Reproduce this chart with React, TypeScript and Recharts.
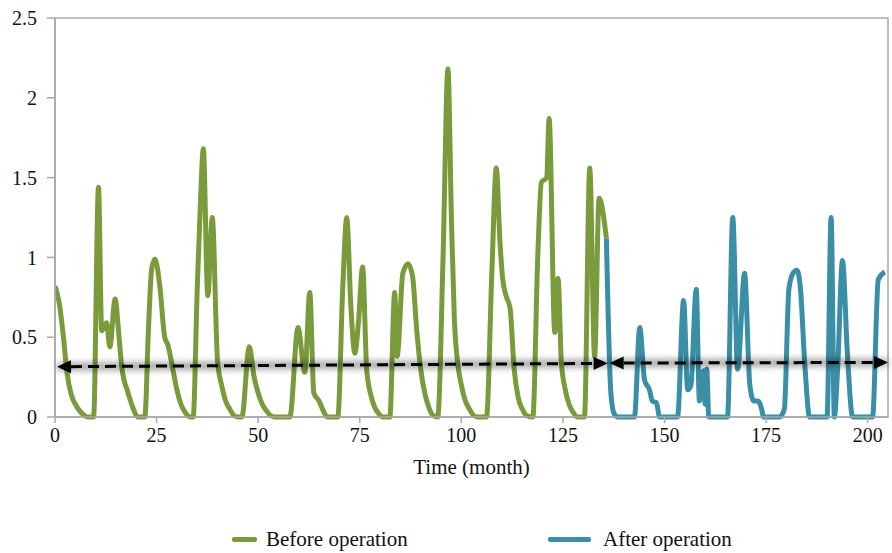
import { LineChart, Line, XAxis, YAxis, ReferenceLine, ReferenceArea } from "recharts";

// [month, value]
const beforeOperation: [number, number][] = [
  [0, 0.82], [1, 0.72], [2, 0.52], [3, 0.27], [4, 0.14], [5, 0.08], [6, 0.04], [7, 0.015], [8, 0], [9.5, 0],
  [10.7, 1.44], [11.5, 0.54], [12.7, 0.59], [13.5, 0.44], [14.8, 0.74], [15.6, 0.55], [16.4, 0.32], [18, 0.15],
  [19, 0.07], [20.4, 0], [22.1, 0], [23, 0.55], [23.8, 0.93], [24.6, 0.99], [25.8, 0.82], [27, 0.5], [27.8, 0.45],
  [29, 0.3], [30, 0.17], [31, 0.08], [32, 0.03], [33.2, 0], [34, 0], [35, 0.8], [35.8, 1.35], [36.5, 1.68],
  [37.6, 0.76], [38.7, 1.25], [40, 0.35], [41, 0.2], [42, 0.1], [43, 0.05], [44, 0.01], [45, 0], [46, 0],
  [47.8, 0.44], [49, 0.25], [50, 0.15], [51, 0.08], [52, 0.04], [53, 0.01], [54, 0], [57.8, 0], [59.8, 0.56],
  [61.5, 0.28], [62.7, 0.78], [63.7, 0.15], [65, 0.1], [66, 0.04], [67, 0], [69.6, 0], [70.8, 0.8], [71.8, 1.25],
  [72.8, 0.7], [73.8, 0.4], [74.7, 0.6], [75.7, 0.94], [76.7, 0.3], [77.7, 0.14], [78.7, 0.06], [79.7, 0.02],
  [80.7, 0], [82.4, 0], [83.6, 0.78], [84.2, 0.38], [85.6, 0.9], [86.9, 0.96], [88, 0.88], [89, 0.55], [90, 0.3],
  [91, 0.15], [92, 0.06], [93, 0.01], [94.2, 0], [95.5, 1.0], [96.7, 2.18], [97.6, 1.2], [98.3, 0.6], [99, 0.36],
  [100, 0.2], [101, 0.1], [102, 0.05], [103, 0.01], [104, 0], [106.2, 0], [107.5, 0.9], [108.6, 1.56],
  [109.5, 1.1], [110.2, 0.86], [111, 0.76], [112, 0.68], [113, 0.3], [114, 0.12], [115, 0.05], [116, 0.01],
  [117.6, 0], [118.8, 1.0], [119.7, 1.47], [121, 1.5], [121.6, 1.87], [123, 0.53], [123.8, 0.87], [124.6, 0.35],
  [125.5, 0.18], [126.5, 0.08], [127.5, 0.03], [128.5, 0], [130.3, 0], [131.6, 1.56], [132.8, 0.38],
  [133.9, 1.37], [135.7, 1.12],
];

const afterOperation: [number, number][] = [
  [135.7, 1.12], [136.8, 0.15], [137.6, 0.02], [138.5, 0], [142.6, 0], [143.9, 0.56], [145.1, 0.23],
  [146.3, 0.17], [147, 0.1], [148, 0.09], [148.8, 0], [153.2, 0], [154.7, 0.73], [155.7, 0.17], [156.5, 0.2],
  [157.8, 0.8], [158.6, 0.1], [159.5, 0.29], [160, 0.08], [160.4, 0.3], [160.9, 0], [165.5, 0], [166.8, 1.25],
  [168, 0.3], [169.7, 0.9], [171, 0.2], [172, 0.1], [173, 0.1], [173.9, 0.05], [174.4, 0], [178.3, 0],
  [179.5, 0.05], [180.6, 0.8], [181.6, 0.9], [182.6, 0.92], [183.4, 0.82], [184.6, 0.3], [185.7, 0], [190, 0],
  [191, 1.25], [191.8, 0], [192.6, 0.3], [193.8, 0.98], [195, 0.4], [196.3, 0], [201.2, 0], [202.6, 0.86],
  [204.2, 0.91],
];

const xTicks = [0, 25, 50, 75, 100, 125, 150, 175, 200];
const yTicks = [0, 0.5, 1, 1.5, 2, 2.5];

// dashed double-headed arrows marking each period
const beforeArrow = [{ x: 0.5, y: 0.315 }, { x: 136, y: 0.336 }];
const afterArrow = [{ x: 136.5, y: 0.338 }, { x: 205, y: 0.342 }];

const GREEN = "#7a9b3b";
const TEAL = "#3a8ea6";
const AXIS = "#a8a8a8";
const FONT = "Liberation Serif, serif";

const toRows = (pts: [number, number][]) => pts.map(([t, v]) => ({ t, v }));

function DoubleArrow(props: any) {
  const { x1, y1, x2, y2 } = props;
  const dx = x2 - x1;
  const dy = y2 - y1;
  const len = Math.hypot(dx, dy) || 1;
  const ux = dx / len;
  const uy = dy / len;
  const head = 14;
  const half = 6.5;
  const tri = (tx: number, ty: number, dir: number) => {
    const bx = tx - dir * ux * head;
    const by = ty - dir * uy * head;
    return `${tx},${ty} ${bx - uy * half},${by + ux * half} ${bx + uy * half},${by - ux * half}`;
  };
  return (
    <g>
      <line x1={x1} y1={y1} x2={x2} y2={y2} stroke="#000" strokeOpacity={0.35} strokeWidth={8} filter="url(#arrowBlur)" />
      <line
        x1={x1 + ux * head}
        y1={y1 + uy * head}
        x2={x2 - ux * head}
        y2={y2 - uy * head}
        stroke="#000"
        strokeWidth={3}
        strokeDasharray="11 6"
      />
      <polygon points={tri(x1, y1, -1)} fill="#000" />
      <polygon points={tri(x2, y2, 1)} fill="#000" />
    </g>
  );
}

export default function App() {
  return (
    <div style={{ position: "absolute", left: 0, top: 0, width: 892, height: 553, background: "#fff", fontFamily: FONT }}>
      <LineChart width={892} height={553} margin={{ top: 18, right: 4, bottom: 76, left: 0 }} style={{ fontFamily: FONT }}>
        <defs>
          <filter id="arrowBlur" filterUnits="userSpaceOnUse" x="0" y="0" width="892" height="553">
            <feGaussianBlur stdDeviation="3" />
          </filter>
        </defs>
        <ReferenceArea x1={0} x2={205} y1={0} y2={2.5} fill="none" stroke={AXIS} strokeWidth={1.5} />
        <XAxis
          type="number"
          dataKey="t"
          domain={[0, 205]}
          ticks={xTicks}
          allowDataOverflow
          height={60}
          stroke={AXIS}
          strokeWidth={1.5}
          tickSize={6}
          tickMargin={5}
          tick={{ fontSize: 20, fill: "#111", fontFamily: FONT }}
          label={{ value: "Time (month)", position: "insideBottom", offset: 3, fontSize: 21, fill: "#111", fontFamily: FONT }}
        />
        <YAxis
          type="number"
          domain={[0, 2.5]}
          ticks={yTicks}
          width={55}
          stroke={AXIS}
          strokeWidth={1.5}
          tickSize={8}
          tickMargin={10}
          tick={{ fontSize: 20, fill: "#111", fontFamily: FONT }}
        />
        <Line
          data={toRows(beforeOperation)}
          dataKey="v"
          name="Before operation"
          type="monotone"
          stroke={GREEN}
          strokeWidth={5}
          strokeLinejoin="round"
          dot={false}
          isAnimationActive={false}
        />
        <Line
          data={toRows(afterOperation)}
          dataKey="v"
          name="After operation"
          type="monotone"
          stroke={TEAL}
          strokeWidth={5}
          strokeLinejoin="round"
          dot={false}
          isAnimationActive={false}
        />
        <ReferenceLine segment={beforeArrow} shape={DoubleArrow} ifOverflow="visible" />
        <ReferenceLine segment={afterArrow} shape={DoubleArrow} ifOverflow="visible" />
      </LineChart>
      <div style={{ position: "absolute", left: 232, top: 537, width: 25, height: 5, borderRadius: 2, background: GREEN }} />
      <div style={{ position: "absolute", left: 266, top: 526, fontSize: 21, color: "#111", lineHeight: "26px" }}>
        Before operation
      </div>
      <div style={{ position: "absolute", left: 548, top: 537, width: 43, height: 5, borderRadius: 2, background: TEAL }} />
      <div style={{ position: "absolute", left: 603, top: 526, fontSize: 21, color: "#111", lineHeight: "26px" }}>
        After operation
      </div>
    </div>
  );
}
